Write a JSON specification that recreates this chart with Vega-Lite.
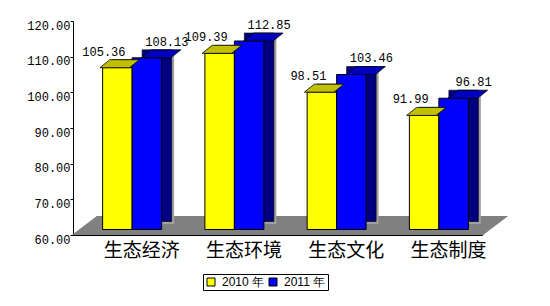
{
  "$schema": "https://vega.github.io/schema/vega-lite/v6.json",
  "autosize": {"type": "none"},
  "width": 409,
  "height": 214,
  "padding": {"left": 73, "top": 21, "right": 68, "bottom": 71},
  "background": "white",
  "config": {"view": {"stroke": null}},
  "resolve": {"scale": {"xOffset": "independent"}},
  "data": {"values": [
    {"category": "生态经济", "year": "2010 年", "value": 105.36},
    {"category": "生态经济", "year": "2011 年", "value": 108.13},
    {"category": "生态环境", "year": "2010 年", "value": 109.39},
    {"category": "生态环境", "year": "2011 年", "value": 112.85},
    {"category": "生态文化", "year": "2010 年", "value": 98.51},
    {"category": "生态文化", "year": "2011 年", "value": 103.46},
    {"category": "生态制度", "year": "2010 年", "value": 91.99},
    {"category": "生态制度", "year": "2011 年", "value": 96.81}
  ]},
  "encoding": {
    "x": {"field": "category", "type": "nominal", "sort": null,
      "scale": {"paddingInner": 0, "paddingOuter": 0},
      "axis": {"title": null, "labelAngle": 0, "labelFont": "Noto Sans CJK SC", "labelFontSize": 19, "labelColor": "black", "labelOffset": 17, "labelPadding": 9, "tickBand": "extent", "tickSize": -3, "tickColor": "black", "domainColor": "black"}},
    "y": {"field": "value", "type": "quantitative",
      "scale": {"domain": [60, 120], "zero": false, "nice": false},
      "axis": {"title": null, "values": [60, 70, 80, 90, 100, 110, 120], "format": ".2f", "grid": false, "labelFont": "Liberation Mono", "labelFontSize": 12, "labelColor": "black", "labelBaseline": "top", "labelOffset": -1, "tickSize": 3, "labelPadding": 0, "tickColor": "black", "domainColor": "black"}}
  },
  "layer": [
    {
      "mark": {"type": "point", "shape": "M-52,0L52,0L77,-19L-27,-19Z", "size": 4, "filled": true, "fill": "#808080", "opacity": 1, "strokeWidth": 0},
      "encoding": {"y": {"datum": 60}}
    },
    {
      "mark": {"type": "bar", "yOffset": -11, "y2Offset": -11, "fill": "#A0A0A0"},
      "encoding": {"xOffset": {"field": "year", "scale": {"domain": ["2010 年", "2011 年"], "paddingInner": 0, "paddingOuter": 0.733, "align": 0.974}}, "y2": {"datum": 60}}
    },
    {
      "mark": {"type": "bar", "yOffset": -13.5, "y2Offset": -13.5, "stroke": "black", "strokeWidth": 0.6},
      "encoding": {
        "xOffset": {"field": "year", "scale": {"domain": ["2010 年", "2011 年"], "paddingInner": 0, "paddingOuter": 0.733, "align": 0.916}},
        "y2": {"datum": 60},
        "fill": {"condition": {"test": "datum.year == '2010 年'", "value": "#808000"}, "value": "#000080"}
      }
    },
    {
      "mark": {"type": "bar", "yOffset": -5.5, "y2Offset": -5.5, "stroke": "black", "strokeWidth": 1},
      "encoding": {
        "xOffset": {"field": "year", "scale": {"domain": ["2010 年", "2011 年"], "paddingInner": 0, "paddingOuter": 0.733, "align": 0.685}},
        "y2": {"datum": 60},
        "color": {"field": "year", "type": "nominal",
          "scale": {"domain": ["2010 年", "2011 年"], "range": ["#FFFF00", "#0000FF"]},
          "legend": {"title": null, "orient": "none", "legendX": 130, "legendY": 253, "direction": "horizontal", "symbolType": "square", "symbolSize": 64, "symbolStrokeColor": "black", "symbolStrokeWidth": 1, "symbolOpacity": 1, "labelFont": "Liberation Sans", "labelFontSize": 12, "labelColor": "black", "labelOffset": 5, "columnPadding": 2, "strokeColor": "black", "padding": 2}}
      }
    },
    {
      "mark": {"type": "point", "shape": "M-14.75,0L14.75,0L24.75,-8L-4.75,-8Z", "size": 4, "filled": true, "opacity": 1, "stroke": "black", "strokeWidth": 0.8, "yOffset": -5.5},
      "encoding": {
        "xOffset": {"field": "year", "scale": {"domain": ["2010 年", "2011 年"], "paddingInner": 0, "paddingOuter": 0.733, "align": 0.685}},
        "fill": {"condition": {"test": "datum.year == '2010 年'", "value": "#C0C000"}, "value": "#0000C0"}
      }
    },
    {
      "transform": [{"filter": "datum.year == '2010 年'"}],
      "mark": {"type": "text", "font": "Liberation Mono", "fontSize": 12, "color": "black", "baseline": "middle", "dy": -21.5, "dx": 0.5},
      "encoding": {
        "xOffset": {"field": "year", "scale": {"domain": ["2010 年", "2011 年"], "paddingInner": 0, "paddingOuter": 0.733, "align": 0.5}},
        "text": {"field": "value", "format": ".2f"}
      }
    },
    {
      "transform": [{"filter": "datum.year == '2011 年'"}],
      "mark": {"type": "text", "font": "Liberation Mono", "fontSize": 12, "color": "black", "baseline": "middle", "dy": -21.5, "dx": 22},
      "encoding": {
        "xOffset": {"field": "year", "scale": {"domain": ["2010 年", "2011 年"], "paddingInner": 0, "paddingOuter": 0.733, "align": 0.5}},
        "text": {"field": "value", "format": ".2f"}
      }
    }
  ]
}
